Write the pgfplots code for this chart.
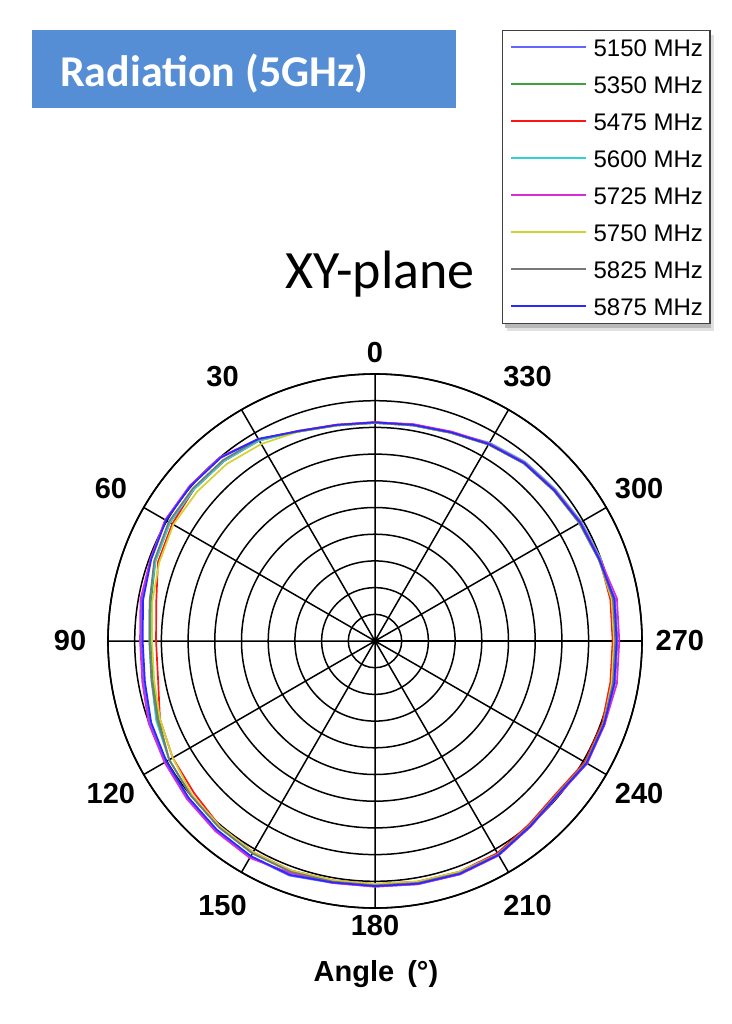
\documentclass[border=0pt]{standalone}
\usepackage{fontspec}
\setmainfont{Liberation Sans}
\newfontfamily\carlito{Carlito}
\usepackage{pgfplots}
\pgfplotsset{compat=1.18}
\usepgfplotslibrary{polar}
\definecolor{titleblue}{RGB}{85,142,213}
\definecolor{colfa}{RGB}{100,100,255}
\definecolor{colfb}{RGB}{60,160,60}
\definecolor{colfc}{RGB}{255,20,20}
\definecolor{colfd}{RGB}{50,210,210}
\definecolor{colfe}{RGB}{214,46,214}
\definecolor{colff}{RGB}{210,210,50}
\definecolor{colfg}{RGB}{120,120,120}
\definecolor{colfh}{RGB}{40,40,255}
\newcommand{\tickfont}{\bfseries\fontsize{29}{34}\selectfont}
\pgfplotstableread{
a    s1   s2   s3   s4   s5   s6   s7   s8
90   8.17 8.17 8.20 8.17 8.19 8.17 8.17 8.19
100  8.20 8.20 8.23 8.20 8.22 8.20 8.20 8.22
110  8.35 8.35 8.38 8.35 8.37 8.35 8.35 8.37
120  8.72 8.72 8.67 8.67 8.74 8.52 8.72 8.74
130  9.00 8.80 8.80 8.80 9.00 8.65 8.85 8.97
140  9.05 8.85 8.85 8.85 9.05 8.70 8.90 9.02
150  9.07 8.87 8.77 8.87 9.07 8.72 8.92 9.04
160  8.95 8.75 8.65 8.75 8.95 8.60 8.80 8.92
170  8.87 8.52 8.32 8.57 8.92 8.47 8.57 8.82
180  8.75 8.40 8.20 8.45 8.80 8.35 8.45 8.70
190  8.80 8.45 8.25 8.50 8.85 8.40 8.50 8.75
200  8.97 8.62 8.57 8.72 9.02 8.57 8.67 8.92
210  9.05 8.90 8.75 8.90 9.10 8.75 8.90 9.02
220  9.15 9.00 8.85 9.00 9.20 8.95 9.00 9.12
230  9.25 9.10 9.05 9.10 9.30 9.05 9.10 9.22
240  9.33 9.18 9.13 9.18 9.38 9.13 9.18 9.30
250  9.35 9.20 9.15 9.20 9.25 9.15 9.20 9.32
260  9.20 9.12 9.10 9.15 9.20 9.10 9.15 9.18
270  9.20 9.15 9.10 9.15 9.20 9.10 9.15 9.18
280  9.25 9.20 9.15 9.20 9.25 9.15 9.20 9.23
290  9.30 9.22 9.20 9.25 9.30 9.20 9.25 9.28
300  9.27 9.22 9.17 9.22 9.27 9.22 9.22 9.25
310  9.07 9.02 8.97 9.02 9.07 9.02 9.02 9.05
320  8.97 8.92 8.87 8.92 8.97 8.92 8.92 8.95
330  9.17 9.12 9.07 9.12 9.17 9.12 9.12 9.15
340  9.15 9.10 9.05 9.10 9.15 9.10 9.10 9.13
350  9.13 9.05 8.95 9.05 9.20 9.00 9.05 9.10
360  9.08 9.00 8.90 9.00 9.15 8.95 9.00 9.05
370  9.13 9.05 8.95 9.05 9.20 9.00 9.05 9.10
380  8.92 8.92 8.95 9.00 8.97 8.92 8.92 8.94
390  8.85 8.83 8.88 8.93 8.90 8.85 8.85 8.87
400  8.75 8.75 8.78 8.83 8.80 8.75 8.75 8.77
410  8.68 8.68 8.71 8.76 8.73 8.68 8.68 8.70
420  8.50 8.50 8.53 8.58 8.55 8.50 8.50 8.52
430  8.30 8.30 8.33 8.30 8.35 8.30 8.30 8.32
440  8.20 8.20 8.23 8.20 8.25 8.20 8.20 8.22
450  8.17 8.17 8.20 8.17 8.19 8.17 8.17 8.19
}\radtable
\begin{document}
\begin{tikzpicture}
\useasboundingbox (0pt,0pt) rectangle (731pt,-1024pt);
\fill[titleblue] (32pt,-30pt) rectangle (456pt,-108pt);
\node[anchor=base west, inner sep=0pt, text=white, font=\carlito\bfseries\fontsize{44}{50}\selectfont] at (60pt,-87pt) {Radiation (5GHz)};
\node[anchor=base, inner sep=0pt, font=\carlito\fontsize{54}{62}\selectfont] at (380pt,-288pt) {XY-plane};
% legend shadow
\fill[black!12] (507pt,-35pt) rectangle (714pt,-331pt);
\fill[black!28] (505pt,-33pt) rectangle (711pt,-328pt);
\begin{polaraxis}[
  at={(375pt,-641pt)}, anchor=center,
  scale only axis, width=534pt, height=534pt,
  ymin=0, ymax=10,
  xtick={0,30,...,330},
  ytick={1,2,...,10},
  xticklabel=\empty, yticklabel=\empty,
  grid=major,
  major grid style={black, line width=1.5pt},
  axis line style={black, line width=1.6pt},
  major tick length=0pt,
  tick style={draw=none},
  clip=false,
  every axis plot/.append style={line width=1.7pt, mark=none},
  legend image code/.code={\draw[#1, line width=2.2pt] (0pt,0.5pt) -- (75pt,0.5pt); \path (82pt,0pt);},
  legend cell align=left,
  legend style={at={(axis description cs:0.738,1.644)}, anchor=north west,
    draw=black!75, line width=1.2pt, fill=white,
    font=\fontsize{24}{28}\selectfont,
    inner xsep=7pt, inner ysep=8.5pt, row sep=20pt,
    nodes={inner sep=0pt, text height=17pt, text depth=0pt}},
]
\addplot[draw=colfa] table[x=a, y=s1] {\radtable};
\addlegendentry{5150 MHz}
\addplot[draw=colfb] table[x=a, y=s2] {\radtable};
\addlegendentry{5350 MHz}
\addplot[draw=colfc] table[x=a, y=s3] {\radtable};
\addlegendentry{5475 MHz}
\addplot[draw=colfd] table[x=a, y=s4] {\radtable};
\addlegendentry{5600 MHz}
\addplot[draw=colfe] table[x=a, y=s5] {\radtable};
\addlegendentry{5725 MHz}
\addplot[draw=colff] table[x=a, y=s6] {\radtable};
\addlegendentry{5750 MHz}
\addplot[draw=colfg] table[x=a, y=s7] {\radtable};
\addlegendentry{5825 MHz}
\addplot[draw=colfh] table[x=a, y=s8] {\radtable};
\addlegendentry{5875 MHz}
\node[font=\tickfont] at (axis cs:90,10.82) {0};
\node[font=\tickfont] at (axis cs:120,11.42) {30};
\node[font=\tickfont] at (axis cs:150,11.42) {60};
\node[font=\tickfont] at (axis cs:180,11.42) {90};
\node[font=\tickfont] at (axis cs:210,11.42) {120};
\node[font=\tickfont] at (axis cs:240,11.42) {150};
\node[font=\tickfont] at (axis cs:270,10.67) {180};
\node[font=\tickfont] at (axis cs:300,11.42) {210};
\node[font=\tickfont] at (axis cs:330,11.42) {240};
\node[font=\tickfont] at (axis cs:0,11.42) {270};
\node[font=\tickfont] at (axis cs:30,11.42) {300};
\node[font=\tickfont] at (axis cs:60,11.42) {330};
\end{polaraxis}
\node[anchor=base, inner sep=0pt, font=\bfseries\fontsize{29}{34}\selectfont] at (376pt,-981pt) {Angle\hspace{0.45em}(°)};
\end{tikzpicture}
\end{document}
